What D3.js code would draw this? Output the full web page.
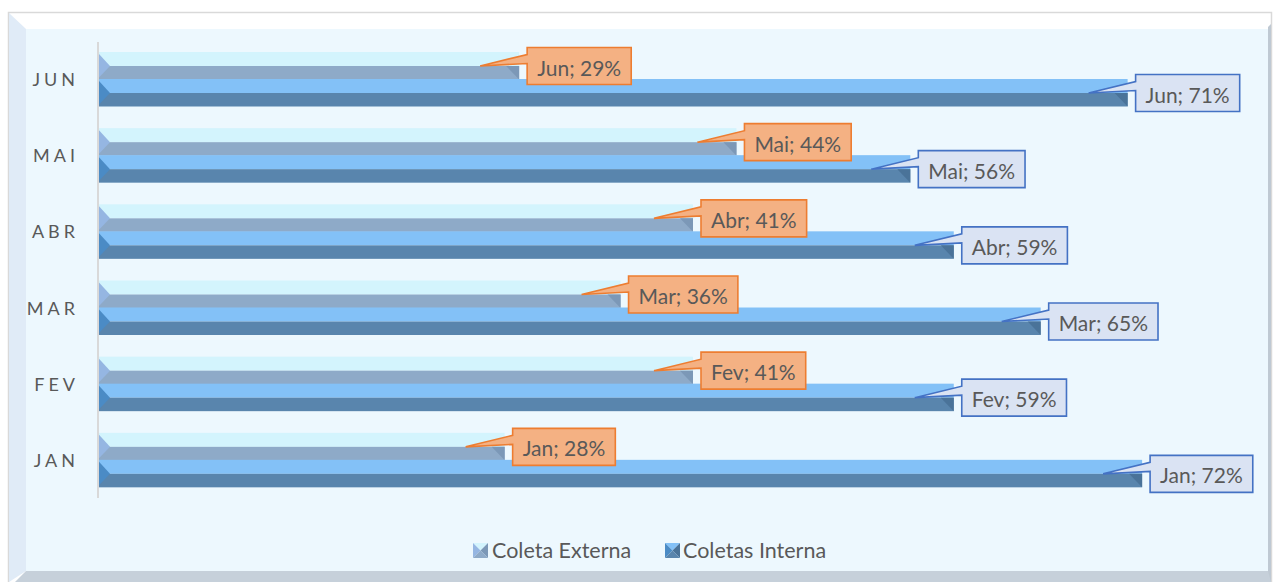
<!DOCTYPE html>
<html>
<head>
<meta charset="utf-8">
<script src="https://cdn.jsdelivr.net/npm/d3@7"></script>
<style>
  html, body { margin: 0; padding: 0; background: #ffffff; }
  svg { display: block; }
</style>
</head>
<body>
<svg id="chart" width="1273" height="582"></svg>
<script>
// Monthly share of collections, external vs internal
const categories = ["JAN", "FEV", "MAR", "ABR", "MAI", "JUN"];
const monthNames = ["Jan", "Fev", "Mar", "Abr", "Mai", "Jun"];
const coletaExterna = [0.28, 0.41, 0.36, 0.41, 0.44, 0.29];
const coletasInterna = [0.72, 0.59, 0.65, 0.59, 0.56, 0.71];
const seriesNames = ["Coleta Externa", "Coletas Interna"];

const W = 1273, H = 582;
const svg = d3.select("#chart");
const FONT = "Lato, 'Open Sans', sans-serif";
const TEXT = "#595959";

// ---- 3D box walls ----
svg.append("rect").attr("x", 0).attr("y", 0).attr("width", W).attr("height", H).attr("fill", "#ffffff");
svg.append("rect").attr("x", 8.5).attr("y", 12.5).attr("width", 1263).attr("height", 590)
  .attr("fill", "#ffffff").attr("stroke", "#d9d9d9").attr("stroke-width", 1.5);
// back wall
svg.append("rect").attr("x", 26).attr("y", 29).attr("width", 1242).attr("height", 542).attr("fill", "#edf8fe");
// left side wall
svg.append("path").attr("d", "M9,13 L26,29 L26,571 L9,582 Z").attr("fill", "#e0ebf7");
// right edge
svg.append("path").attr("d", "M1268,27 L1271,24 L1271,582 L1268,582 Z").attr("fill", "#bfc9d3");
// floor
svg.append("path").attr("d", "M26,571 L1268,571 L1271,582 L15,582 Z").attr("fill", "#c6d0da");

// ---- scales ----
const x = d3.scaleLinear().domain([0, 0.8]).range([99, 1258]);
const y = d3.scaleBand().domain(categories.slice().reverse()).range([42, 499]).padding(0);

// value axis line
svg.append("line").attr("x1", 98).attr("x2", 98).attr("y1", 42).attr("y2", 498)
  .attr("stroke", "#d9d9d9").attr("stroke-width", 2);

// category axis (labels only)
const yAxis = d3.axisLeft(y).tickSize(0).tickPadding(0);
const gy = svg.append("g").attr("transform", "translate(79,0)").call(yAxis);
gy.select(".domain").remove();
gy.selectAll(".tick text")
  .attr("font-family", FONT).attr("font-size", 18).attr("fill", TEXT)
  .attr("letter-spacing", "4px").attr("x", 0)
  .attr("dy", null).attr("dominant-baseline", "central")
  .attr("transform", d => `translate(0,${37 - y.bandwidth() / 2})`);

// ---- series styles ----
const styles = [
  { top: "#d3f4fd", front: "#8eaac8", left: "#95b6e2", end: "#7c98b7",
    boxFill: "#f4b183", boxStroke: "#ed7d31", off: 10 },
  { top: "#83c1f7", front: "#5985ad", left: "#4b8bc5", end: "#4a7399",
    boxFill: "#dae3f3", boxStroke: "#4472c4", off: 37 }
];
const seriesData = [coletaExterna, coletasInterna];

const bars = svg.append("g");
const labels = svg.append("g");

seriesData.forEach((vals, si) => {
  const st = styles[si];
  categories.forEach((cat, i) => {
    const v = vals[i];
    const bt = y(cat);
    const yT = bt + st.off, y0 = yT + 14, y1 = y0 + 13.5;
    const x0 = x(0), xv = x(v);
    const g = bars.append("g");
    // top face
    g.append("rect").attr("x", x0).attr("y", yT).attr("width", xv - x0).attr("height", y0 - yT).attr("fill", st.top);
    // front face
    g.append("rect").attr("x", x0).attr("y", y0).attr("width", xv - x0).attr("height", y1 - y0).attr("fill", st.front);
    // left bevel
    g.append("path").attr("d", `M${x0},${yT + 2} L${x0 + 11},${y0} L${x0},${y1 - 2} Z`).attr("fill", st.left);
    // right end shading
    g.append("path").attr("d", `M${xv - 13},${y0} L${xv},${y0} L${xv},${y1} Z`).attr("fill", st.end);

    // callout label
    const lg = labels.append("g");
    const txt = `${monthNames[i]}; ${Math.round(v * 100)}%`;
    const t = lg.append("text").text(txt)
      .attr("font-family", FONT).attr("font-size", 21).attr("fill", TEXT)
      .attr("text-anchor", "middle").attr("dominant-baseline", "central");
    const tw = t.node().getComputedTextLength();
    const bw = tw + 20, bh = 37;
    const bl = xv + 8, btop = y0 - bh / 2;
    const tipX = xv - 39, tipY = y0;
    const d = `M${bl},${btop} L${bl + bw},${btop} L${bl + bw},${btop + bh} L${bl},${btop + bh} ` +
              `L${bl},${btop + 16} L${tipX},${tipY} L${bl},${btop + 7} Z`;
    lg.insert("path", "text").attr("d", d).attr("fill", st.boxFill)
      .attr("stroke", st.boxStroke).attr("stroke-width", 1.6).attr("stroke-linejoin", "miter");
    t.attr("x", bl + bw / 2).attr("y", btop + bh / 2 + 1);
  });
});

// ---- legend ----
const legend = svg.append("g");
const legendItems = [
  { name: seriesNames[0], mx: 473, tx: 492, c: ["#d3f4fd", "#95b6e2", "#7c98b7", "#8eaac8"] },
  { name: seriesNames[1], mx: 665, tx: 683, c: ["#83c1f7", "#4b8bc5", "#4a7399", "#5985ad"] }
];
legendItems.forEach(it => {
  const s = 15, mx = it.mx, my = 543, cx = mx + s / 2, cy = my + s / 2;
  const g = legend.append("g");
  g.append("path").attr("d", `M${mx},${my} L${mx + s},${my} L${cx},${cy} Z`).attr("fill", it.c[0]);
  g.append("path").attr("d", `M${mx},${my} L${cx},${cy} L${mx},${my + s} Z`).attr("fill", it.c[1]);
  g.append("path").attr("d", `M${mx + s},${my} L${mx + s},${my + s} L${cx},${cy} Z`).attr("fill", it.c[2]);
  g.append("path").attr("d", `M${mx},${my + s} L${cx},${cy} L${mx + s},${my + s} Z`).attr("fill", it.c[3]);
  g.append("text").text(it.name).attr("x", it.tx).attr("y", 550)
    .attr("font-family", FONT).attr("font-size", 21.5).attr("fill", TEXT)
    .attr("dominant-baseline", "central");
});
</script>
</body>
</html>
